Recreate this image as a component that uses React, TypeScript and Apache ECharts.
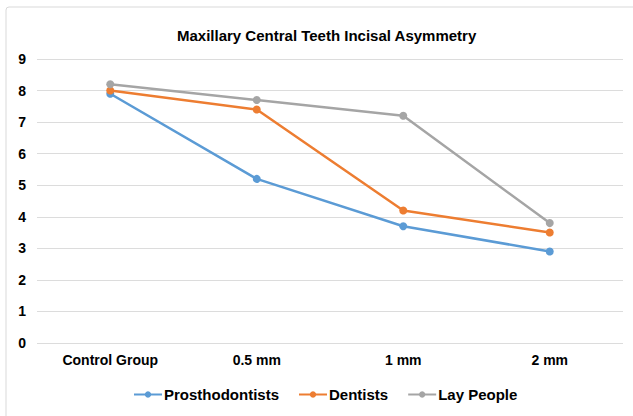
import React, { useEffect, useRef } from "react";
import * as echarts from "echarts";

const categories = ["Control Group", "0.5 mm", "1 mm", "2 mm"];
const prosthodontists = [7.9, 5.2, 3.7, 2.9];
const dentists = [8.0, 7.4, 4.2, 3.5];
const layPeople = [8.2, 7.7, 7.2, 3.8];
const yTicks = { min: 0, max: 9, interval: 1 };

const FONT = "'Liberation Sans', Arial, sans-serif";

export default function App() {
  const ref = useRef<HTMLDivElement>(null);

  useEffect(() => {
    if (!ref.current) return;
    const chart = echarts.init(ref.current, null, { renderer: "svg" });

    const mkSeries = (name: string, data: number[], color: string) => ({
      name,
      type: "line",
      data,
      symbol: "circle",
      symbolSize: 8,
      itemStyle: { color },
      lineStyle: { color, width: 2.5 },
    });

    chart.setOption({
      animation: false,
      backgroundColor: "#ffffff",
      textStyle: { fontFamily: FONT },
      title: {
        text: "Maxillary Central Teeth Incisal Asymmetry",
        left: 172,
        top: 23,
        textStyle: { fontFamily: FONT, fontSize: 15, fontWeight: "bold", color: "#000" },
      },
      graphic: [
        {
          type: "rect",
          shape: { x: 6, y: 7, width: 700, height: 500, r: 3 },
          style: { fill: "none", stroke: "#d9d9d9", lineWidth: 1 },
          silent: true,
        },
      ],
      legend: {
        bottom: 9,
        left: 128,
        itemWidth: 28,
        itemHeight: 8,
        itemGap: 19,
        textStyle: { fontFamily: FONT, fontSize: 15, fontWeight: "bold", color: "#000", padding: [0, 0, 0, -3] },
        data: ["Prosthodontists", "Dentists", "Lay People"],
      },
      grid: { left: 37, right: 10, top: 59, bottom: 73, containLabel: false },
      xAxis: {
        type: "category",
        data: categories,
        boundaryGap: true,
        axisLine: { show: false },
        axisTick: { show: false },
        axisLabel: { margin: 10, fontFamily: FONT, fontSize: 14, fontWeight: "bold", color: "#000" },
      },
      yAxis: {
        type: "value",
        min: yTicks.min,
        max: yTicks.max,
        interval: yTicks.interval,
        axisLine: { show: false },
        axisTick: { show: false },
        axisLabel: { margin: 11, fontFamily: FONT, fontSize: 14, fontWeight: "bold", color: "#000" },
        splitLine: { lineStyle: { color: "#dcdcdc", width: 1 } },
      },
      series: [
        mkSeries("Prosthodontists", prosthodontists, "#5b9bd5"),
        mkSeries("Dentists", dentists, "#ed7d31"),
        mkSeries("Lay People", layPeople, "#a5a5a5"),
      ],
    });

    return () => chart.dispose();
  }, []);

  return <div ref={ref} style={{ width: 633, height: 416, position: "absolute", left: 0, top: 0 }} />;
}
